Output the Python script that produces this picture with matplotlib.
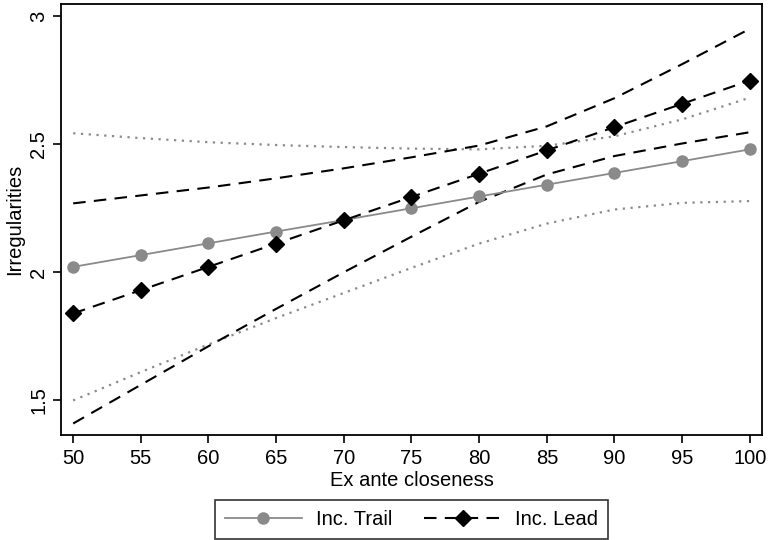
import numpy as np
import matplotlib
matplotlib.use("Agg")
import matplotlib.pyplot as plt

plt.rcParams['font.family'] = ['Liberation Sans', 'DejaVu Sans']

# margins by ex ante closeness
closeness = [50, 55, 60, 65, 70, 75, 80, 85, 90, 95, 100]

trail = [2.020, 2.066, 2.112, 2.158, 2.203, 2.249, 2.295, 2.341, 2.387, 2.433, 2.479]
trail_hi = [2.542, 2.523, 2.507, 2.496, 2.488, 2.482, 2.479, 2.493, 2.530, 2.596, 2.681]
trail_lo = [1.498, 1.609, 1.717, 1.820, 1.918, 2.016, 2.111, 2.189, 2.244, 2.270, 2.277]

lead = [1.838, 1.929, 2.020, 2.111, 2.202, 2.293, 2.384, 2.475, 2.566, 2.657, 2.748]
lead_hi = [2.268, 2.299, 2.330, 2.366, 2.405, 2.448, 2.494, 2.569, 2.679, 2.812, 2.950]
lead_lo = [1.408, 1.559, 1.710, 1.856, 1.999, 2.138, 2.274, 2.381, 2.453, 2.502, 2.546]

x_ticks = [50, 55, 60, 65, 70, 75, 80, 85, 90, 95, 100]
y_ticks = [1.5, 2, 2.5, 3]
y_tick_labels = ['1.5', '2', '2.5', '3']

gray = '#8a8a8a'
fs = 14.5

fig = plt.figure(figsize=(7.7, 5.4), dpi=100)
ax = fig.add_axes([0.0792, 0.1944, 0.9104, 0.7982])

# confidence bands
ax.plot(closeness, trail_hi, color=gray, linestyle=(0, (1, 2.5)), linewidth=1.6)
ax.plot(closeness, trail_lo, color=gray, linestyle=(0, (1, 2.5)), linewidth=1.6)
ax.plot(closeness, lead_hi, color='black', linestyle=(0, (6, 4)), linewidth=1.5)
ax.plot(closeness, lead_lo, color='black', linestyle=(0, (6, 4)), linewidth=1.5)

# point estimates
ax.plot(closeness, trail, color=gray, linestyle='-', linewidth=1.3,
        marker='o', markersize=8, markerfacecolor=gray, markeredgecolor=gray,
        label='Inc. Trail')
ax.plot(closeness, lead, color='black', linestyle=(0, (6, 4)), linewidth=1.5,
        marker='D', markersize=8.5, markerfacecolor='black', markeredgecolor='black',
        label='Inc. Lead')

ax.set_xlim(49.1, 100.9)
ax.set_ylim(1.363, 3.047)
ax.set_xticks(x_ticks)
ax.set_yticks(y_ticks)
ax.set_yticklabels(y_tick_labels, rotation=90, va='center')
ax.tick_params(axis='both', direction='out', length=6, width=1.2, labelsize=fs, colors='black')
ax.tick_params(axis='x', pad=4)
ax.tick_params(axis='y', pad=3)
for s in ax.spines.values():
    s.set_linewidth(1.3)

ax.set_xlabel('Ex ante closeness', fontsize=fs, labelpad=2)
ax.set_ylabel('Irregularities', fontsize=fs, labelpad=4)

leg = ax.legend(loc='upper center', bbox_to_anchor=(0.5, -0.151), ncol=2,
                frameon=True, fancybox=False, edgecolor='black', fontsize=fs,
                handlelength=3.8, handletextpad=0.7, columnspacing=1.6,
                borderpad=0.5, borderaxespad=0)
leg.get_frame().set_linewidth(1.2)

fig.savefig('out.png', dpi=100)
